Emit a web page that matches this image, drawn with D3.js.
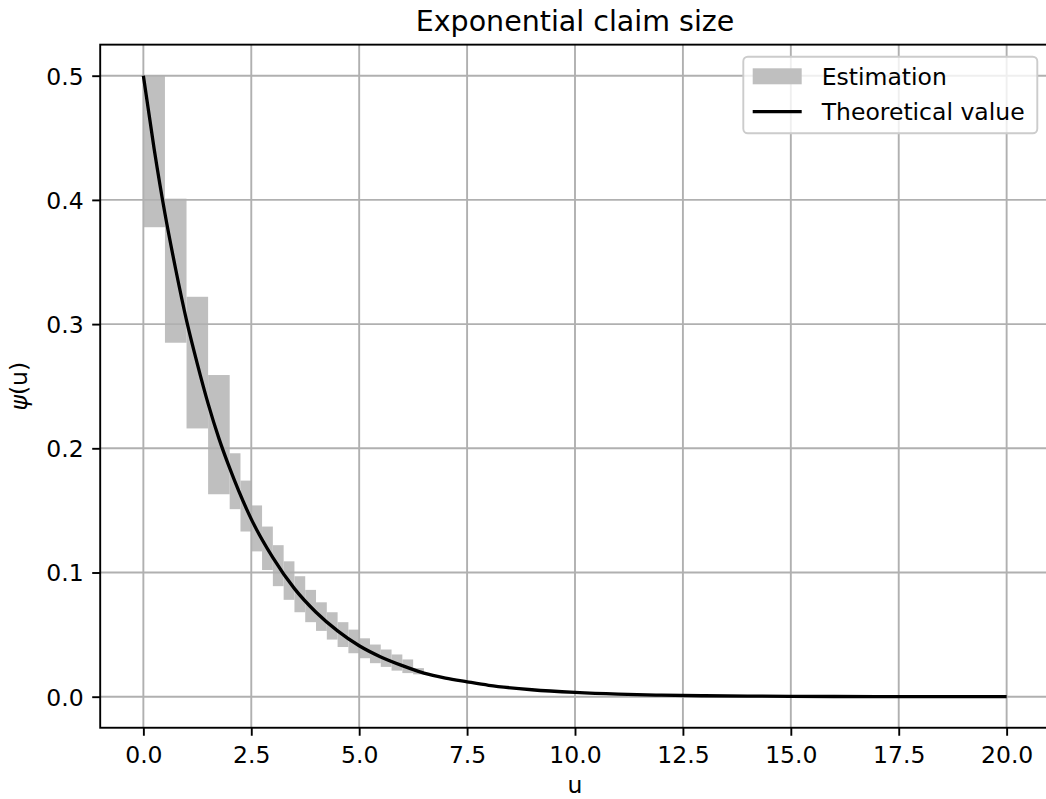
<!DOCTYPE html>
<html>
<head>
<meta charset="utf-8">
<script src="https://cdn.jsdelivr.net/npm/d3@7"></script>
<style>
  body { margin: 0; background: #fff; }
  svg text { font-family: "DejaVu Sans", sans-serif; fill: #000; }
</style>
</head>
<body>
<div id="chart"></div>
<script>
'use strict';

// estimation bands: bin edges, lower and upper bounds
let binEdges = [0, 0.5, 1, 1.5, 2, 2.25, 2.5, 2.75, 3, 3.25, 3.5, 3.75, 4,
  4.25, 4.5, 4.75, 5, 5.25, 5.5, 5.75, 6, 6.25, 6.5];
let estLow = [0.378, 0.285, 0.216, 0.163, 0.151, 0.133, 0.117, 0.102, 0.089,
  0.078, 0.068, 0.060, 0.053, 0.046, 0.040, 0.035, 0.031, 0.027, 0.024, 0.021,
  0.019, 0.018];
let estHigh = [0.500, 0.401, 0.322, 0.259, 0.196, 0.174, 0.154, 0.137, 0.122,
  0.109, 0.097, 0.086, 0.076, 0.068, 0.060, 0.054, 0.047, 0.042, 0.038, 0.034,
  0.030, 0.023];

// theoretical curve
let uTheory = [0, 0.25, 0.5, 0.75, 1, 1.25, 1.5, 1.75, 2, 2.5, 3, 3.5, 4, 4.5,
  5, 5.5, 6, 6.5, 7, 7.5, 8, 9, 10, 11, 12, 13, 14, 15, 16, 17, 18, 19, 20];
let psiTheory = [0.500, 0.441, 0.389, 0.344, 0.303, 0.268, 0.236, 0.208, 0.184,
  0.143, 0.112, 0.087, 0.068, 0.053, 0.041, 0.032, 0.025, 0.019, 0.015, 0.012,
  0.0092, 0.0056, 0.0034, 0.0020, 0.0012, 0.00075, 0.00046, 0.00028, 0.00017,
  0.0001, 0.00006, 0.00004, 0.00002];

let xTicks = [0, 2.5, 5, 7.5, 10, 12.5, 15, 17.5, 20];
let yTicks = [0, 0.1, 0.2, 0.3, 0.4, 0.5];

let w = 1046;
let h = 799;
let fontSize = 23.5;
let lw = 1.9;

let pLeft = 100.2, pRight = 1049.8, pTop = 44.65, pBottom = 727.75;

let x = d3.scaleLinear().domain([-1, 21]).range([pLeft, pRight]);
let y = d3.scaleLinear().domain([-0.025, 0.525]).range([pBottom, pTop]);

let svg = d3.select('#chart').append('svg')
  .attr('width', w)
  .attr('height', h);

svg.append('defs').append('clipPath').attr('id', 'plot')
  .append('rect')
  .attr('x', pLeft).attr('y', pTop)
  .attr('width', pRight - pLeft).attr('height', pBottom - pTop);

let plot = svg.append('g').attr('clip-path', 'url(#plot)');

// gray estimation band
let bins = estLow.map((d, i) => ({ x0: binEdges[i], x1: binEdges[i + 1], lo: d, hi: estHigh[i] }));
plot.selectAll('rect.est')
  .data(bins)
  .enter()
  .append('rect')
  .attr('class', 'est')
  .attr('x', d => x(d.x0))
  .attr('width', d => x(d.x1) - x(d.x0))
  .attr('y', d => y(d.hi))
  .attr('height', d => y(d.lo) - y(d.hi))
  .attr('fill', '#bfbfbf');

// grid
plot.selectAll('line.gx')
  .data(xTicks)
  .enter()
  .append('line')
  .attr('x1', d => x(d)).attr('x2', d => x(d))
  .attr('y1', pTop).attr('y2', pBottom)
  .attr('stroke', '#b0b0b0').attr('stroke-width', lw);

plot.selectAll('line.gy')
  .data(yTicks)
  .enter()
  .append('line')
  .attr('x1', pLeft).attr('x2', pRight)
  .attr('y1', d => y(d)).attr('y2', d => y(d))
  .attr('stroke', '#b0b0b0').attr('stroke-width', lw);

// theoretical line
let line = d3.line()
  .x((d, i) => x(uTheory[i]))
  .y(d => y(d))
  .curve(d3.curveMonotoneX);

plot.append('path')
  .datum(psiTheory)
  .attr('d', line)
  .attr('fill', 'none')
  .attr('stroke', '#000')
  .attr('stroke-width', 3.3);

// axes
let xAxis = svg.append('g')
  .attr('transform', `translate(0,${pBottom})`)
  .call(d3.axisBottom(x).tickValues(xTicks).tickFormat(d3.format('.1f')).tickSize(8).tickSizeOuter(0));

let yAxis = svg.append('g')
  .attr('transform', `translate(${pLeft},0)`)
  .call(d3.axisLeft(y).tickValues(yTicks).tickFormat(d3.format('.1f')).tickSize(8).tickSizeOuter(0));

[xAxis, yAxis].forEach(g => {
  g.select('.domain').remove();
  g.selectAll('.tick line').attr('stroke', '#000').attr('stroke-width', lw);
  g.selectAll('.tick text')
    .attr('font-family', '"DejaVu Sans", sans-serif')
    .attr('font-size', fontSize)
    .attr('fill', '#000');
});

xAxis.selectAll('.tick text').attr('y', 35.3).attr('dy', null);
yAxis.selectAll('.tick text').attr('x', -16.5).attr('dy', '0.36em');

// spines
svg.append('rect')
  .attr('x', pLeft).attr('y', pTop)
  .attr('width', pRight - pLeft).attr('height', pBottom - pTop)
  .attr('fill', 'none')
  .attr('stroke', '#000')
  .attr('stroke-width', lw);

// labels
svg.append('text')
  .text('Exponential claim size')
  .attr('x', (pLeft + pRight) / 2)
  .attr('y', 31)
  .attr('text-anchor', 'middle')
  .attr('font-size', 28.5);

svg.append('text')
  .text('u')
  .attr('x', (pLeft + pRight) / 2)
  .attr('y', 793)
  .attr('text-anchor', 'middle')
  .attr('font-size', fontSize);

svg.append('text')
  .attr('transform', `translate(27,${(pTop + pBottom) / 2}) rotate(-90)`)
  .attr('text-anchor', 'middle')
  .attr('font-size', fontSize)
  .html('<tspan font-style="italic">ψ</tspan>(u)');

// legend
let legend = svg.append('g');
legend.append('rect')
  .attr('x', 743.3).attr('y', 56.7)
  .attr('width', 294).attr('height', 76.6)
  .attr('rx', 4.5)
  .attr('fill', '#fff').attr('fill-opacity', 0.8)
  .attr('stroke', '#cccccc').attr('stroke-width', lw);

legend.append('rect')
  .attr('x', 752.7).attr('y', 68.3)
  .attr('width', 49).attr('height', 16)
  .attr('fill', '#bfbfbf');

legend.append('line')
  .attr('x1', 752.7).attr('x2', 801.7)
  .attr('y1', 111.7).attr('y2', 111.7)
  .attr('stroke', '#000').attr('stroke-width', 3.3);

legend.append('text').text('Estimation')
  .attr('x', 821.7).attr('y', 85).attr('font-size', fontSize);
legend.append('text').text('Theoretical value')
  .attr('x', 821.7).attr('y', 120).attr('font-size', fontSize);
</script>
</body>
</html>
